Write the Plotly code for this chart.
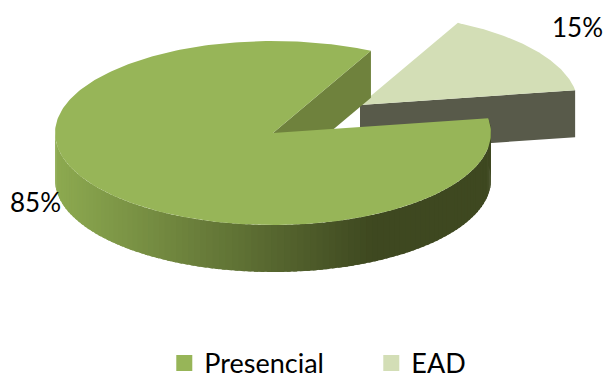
import math
import plotly.graph_objects as go

categories = ["Presencial", "EAD"]
shares = [85, 15]
top_colors = ["#97B558", "#D3DEB6"]
label_positions = [(35, 202), (577, 27)]

W, H = 604, 378
CX, CY = 273, 133      # centre of the main slice's top face
RX, RY = 218, 92       # ellipse radii of the top face
DEPTH = 47             # thickness of the disc
FIRST_EDGE = 9.3       # math angle (deg) where the first slice begins, running clockwise
EXPLODE = (87, -28)    # offset of the pulled-out slice

def pt(deg, off=(0, 0), dy=0):
    a = math.radians(deg)
    return (CX + off[0] + RX * math.cos(a), CY + off[1] - RY * math.sin(a) + dy)

def arc(a0, a1, n=120, off=(0, 0), dy=0):
    return [pt(a0 + (a1 - a0) * i / n, off, dy) for i in range(n + 1)]

def poly(points, color):
    xs = [p[0] for p in points] + [points[0][0]]
    ys = [p[1] for p in points] + [points[0][1]]
    return go.Scatter(x=xs, y=ys, mode="lines", fill="toself", fillcolor=color,
                      line=dict(width=0, color=color), hoverinfo="skip", showlegend=False)

def mix(c0, c1, t):
    t = max(0, min(1, t))
    return "rgb(%d,%d,%d)" % tuple(round(a + (b - a) * t) for a, b in zip(c0, c1))

main_sweep = shares[0] / sum(shares) * 360
start = FIRST_EDGE
end = FIRST_EDGE - main_sweep   # clockwise

fig = go.Figure()

# pulled-out slice (EAD): visible radial wall, then top face
ead_start, ead_end = end, end - shares[1] / sum(shares) * 360
apex = (CX + EXPLODE[0], CY + EXPLODE[1])
rim = pt(ead_end, EXPLODE)
fig.add_trace(poly([apex, rim, (rim[0], rim[1] + DEPTH), (apex[0], apex[1] + DEPTH)], "#585A4A"))
fig.add_trace(poly([apex] + arc(ead_start, ead_end, off=EXPLODE), top_colors[1]))

# inner wall of the main slice
edge = pt(end)
fig.add_trace(poly([(CX, CY), edge, (edge[0], edge[1] + DEPTH), (CX, CY + DEPTH)], "#6F823D"))

# outer wall with shading by horizontal position
LIGHT, DARK = (141, 170, 80), (62, 72, 32)
n_strips = 110
for i in range(n_strips):
    a0 = start - (start + 180) * i / n_strips
    a1 = start - (start + 180) * (i + 1.6) / n_strips
    a1 = max(a1, -180)
    upper = arc(a0, a1, n=3)
    lower = arc(a1, a0, n=3, dy=DEPTH)
    xm = pt((a0 + a1) / 2)[0]
    t = (xm - (CX - RX)) / (370 - (CX - RX))
    fig.add_trace(poly(upper + lower, mix(LIGHT, DARK, t)))

# top face of the main slice
fig.add_trace(poly([(CX, CY)] + arc(start, end, n=300), top_colors[0]))

# legend entries
for name, color in zip(categories, top_colors):
    fig.add_trace(go.Scatter(x=[None], y=[None], mode="markers", name=name,
                             marker=dict(symbol="square", size=16, color=color)))

for share, (x, y) in zip(shares, label_positions):
    fig.add_annotation(x=x, y=y, text=f"{share}%", showarrow=False,
                       font=dict(family="Lato", size=26, color="#000000"))

fig.update_layout(
    width=W, height=H, margin=dict(l=0, r=0, t=0, b=0, autoexpand=False),
    paper_bgcolor="white", plot_bgcolor="white",
    xaxis=dict(range=[0, W], visible=False, fixedrange=True),
    yaxis=dict(range=[H, 0], visible=False, fixedrange=True),
    legend=dict(orientation="h", x=0.272, y=-0.026, xanchor="left", yanchor="bottom",
                font=dict(family="Lato", size=27, color="#000000"),
                entrywidth=162, entrywidthmode="pixels", bgcolor="rgba(0,0,0,0)",
                tracegroupgap=0),
    showlegend=True,
)
fig.write_html("out.html", config={"displayModeBar": False},
               post_script="document.body.style.margin='0';document.body.style.overflow='hidden';")
